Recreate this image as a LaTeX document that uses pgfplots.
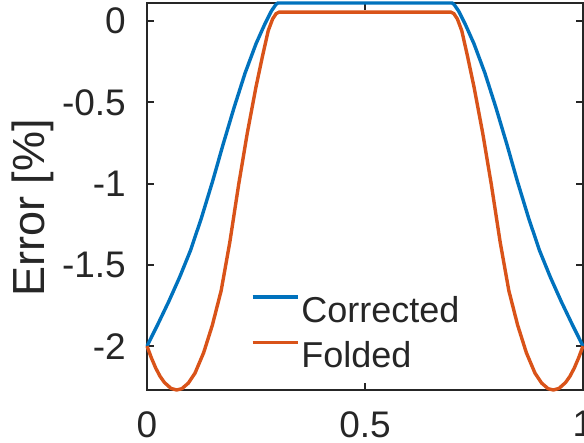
\documentclass[border=0pt]{standalone}
\usepackage{pgfplots}
\pgfplotsset{compat=1.18}
\usepackage{fontspec}
\setmainfont{Liberation Sans}
\definecolor{mblue}{rgb}{0,0.447,0.741}
\definecolor{morange}{rgb}{0.85,0.325,0.098}
\definecolor{axgray}{rgb}{0.15,0.15,0.15}
\begin{document}
\begin{tikzpicture}
\begin{axis}[
  name=ax, at={(0pt,0pt)}, anchor=south west,
  scale only axis, width=436pt, height=387pt,
  xmin=0, xmax=1, ymin=-2.27, ymax=0.111,
  xtick={0,0.5,1}, xticklabels={0,0.5,1},
  ytick={-2,-1.5,-1,-0.5,0}, yticklabels={-2,-1.5,-1,-0.5,0},
  tick align=inside, major tick length=7pt,
  axis line style={axgray, line width=2pt},
  every tick/.style={axgray, line width=2pt},
  tick label style={font=\fontsize{37}{40}\selectfont, text=axgray, inner sep=0pt},
  xticklabel style={anchor=north, yshift=-21pt},
  yticklabel style={anchor=east, xshift=-21pt},
  ylabel={Error [\%]},
  ylabel style={at={(axis description cs:-0.262,0.47)}, anchor=center, font=\fontsize{45}{48}\selectfont, text=axgray},
  clip=false,
  legend cell align=left,
  legend image code/.code={\draw[#1] (0pt,13pt) -- (45pt,13pt);},
  legend style={at={(axis description cs:0.2385,0.1486)}, anchor=west, draw=none, fill=none,
    inner sep=0pt, outer sep=0pt, row sep=17pt,
    font=\fontsize{36}{40}\selectfont, text=axgray,
    nodes={inner sep=0pt},
    /tikz/every odd column/.append style={column sep=2pt}},
]
\addplot[mblue, line width=3.4pt, line join=round] table {
0.000 -2.000
0.025 -1.865
0.050 -1.725
0.075 -1.575
0.100 -1.410
0.125 -1.210
0.150 -0.990
0.175 -0.755
0.200 -0.530
0.225 -0.320
0.250 -0.140
0.270 -0.020
0.285 0.060
0.295 0.100
0.300 0.111
0.700 0.111
0.705 0.100
0.715 0.060
0.730 -0.020
0.750 -0.140
0.775 -0.320
0.800 -0.530
0.825 -0.755
0.850 -0.990
0.875 -1.210
0.900 -1.410
0.925 -1.575
0.950 -1.725
0.975 -1.865
1.000 -2.000
};
\addlegendentry{Corrected}
\addplot[morange, line width=3.4pt, line join=round] table {
0.000 -2.000
0.010 -2.072
0.020 -2.135
0.030 -2.186
0.040 -2.224
0.055 -2.260
0.068 -2.270
0.080 -2.262
0.095 -2.227
0.110 -2.167
0.130 -2.040
0.150 -1.870
0.170 -1.660
0.190 -1.360
0.210 -1.010
0.230 -0.690
0.250 -0.405
0.265 -0.215
0.278 -0.060
0.288 0.012
0.296 0.045
0.303 0.055
0.697 0.055
0.704 0.045
0.712 0.012
0.722 -0.060
0.735 -0.215
0.750 -0.405
0.770 -0.690
0.790 -1.010
0.810 -1.360
0.830 -1.660
0.850 -1.870
0.870 -2.040
0.890 -2.167
0.905 -2.227
0.920 -2.262
0.932 -2.270
0.945 -2.260
0.960 -2.224
0.970 -2.186
0.980 -2.135
0.990 -2.072
1.000 -2.000
};
\addlegendentry{Folded}
\end{axis}
\pgfresetboundingbox
\path[use as bounding box] (-147pt,-53pt) rectangle (437pt,390pt);
\end{tikzpicture}
\end{document}
